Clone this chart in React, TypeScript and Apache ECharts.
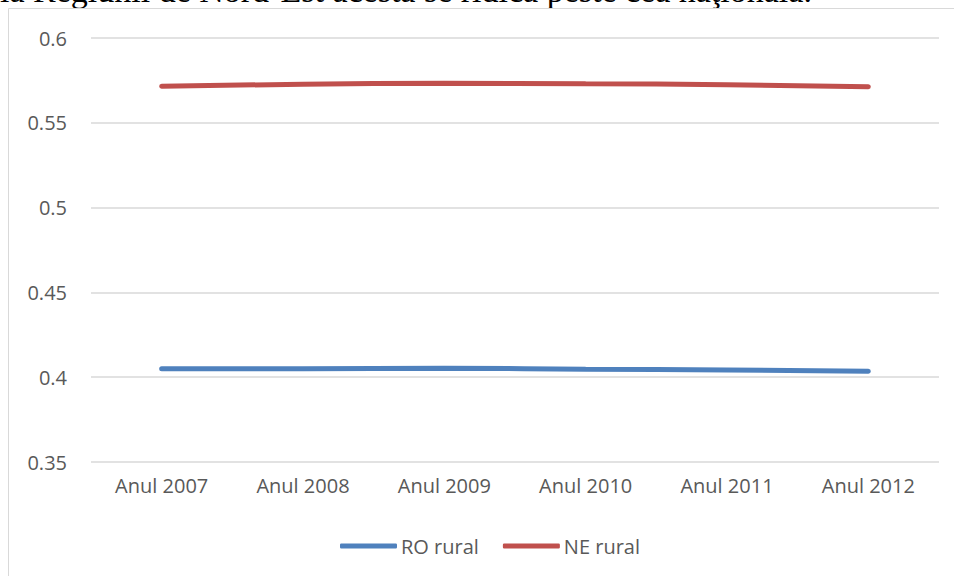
import React, { useEffect, useRef } from "react";
import * as echarts from "echarts";

const categories = ["Anul 2007", "Anul 2008", "Anul 2009", "Anul 2010", "Anul 2011", "Anul 2012"];
const roRural = [0.405, 0.405, 0.4053, 0.4047, 0.4043, 0.4035];
const neRural = [0.5715, 0.5728, 0.5733, 0.573, 0.5725, 0.5713];
const seriesNames = ["RO rural", "NE rural"];
const yTicks = { min: 0.35, max: 0.6, interval: 0.05 };
const headerText = "la Regiunii de Nord-Est acesta se ridică peste cea naţională.";

export default function App() {
  const ref = useRef<HTMLDivElement>(null);
  useEffect(() => {
    if (!ref.current) return;
    const chart = echarts.init(ref.current, undefined, { renderer: "svg" });
    const font = "'Open Sans', 'Liberation Sans', sans-serif";
    chart.setOption({
      animation: false,
      backgroundColor: "#ffffff",
      graphic: [
        {
          type: "text",
          x: 0,
          y: 7.5,
          style: {
            text: headerText,
            font: "34px 'Liberation Serif', 'Times New Roman', serif",
            fill: "#000000",
            verticalAlign: "bottom",
            align: "left",
          },
          silent: true,
        },
        {
          type: "rect",
          shape: { x: 8.5, y: 8.5, width: 1000, height: 1000 },
          style: { fill: "none", stroke: "#d9d9d9", lineWidth: 1 },
          silent: true,
        },
      ],
      grid: { left: 91, right: 15, top: 38, bottom: 114 },
      legend: {
        top: 536,
        left: 340,
        itemWidth: 57,
        itemHeight: 5,
        itemGap: 24,
        padding: 0,
        textStyle: { color: "#595959", fontSize: 20, fontFamily: font, padding: [0, 0, 0, -1] },
        data: seriesNames.map((n) => ({ name: n, icon: "roundRect" })),
      },
      xAxis: {
        type: "category",
        data: categories,
        boundaryGap: true,
        axisLine: { show: false },
        axisTick: { show: false },
        axisLabel: { color: "#595959", fontSize: 20, fontFamily: font, margin: 13 },
      },
      yAxis: {
        type: "value",
        min: yTicks.min,
        max: yTicks.max,
        interval: yTicks.interval,
        axisLine: { show: false },
        axisTick: { show: false },
        splitLine: { lineStyle: { color: "#d9d9d9", width: 1.5 } },
        axisLabel: {
          color: "#595959",
          fontSize: 20,
          fontFamily: font,
          margin: 24,
          formatter: (v: number) => String(parseFloat(v.toFixed(2))),
        },
      },
      series: [
        {
          name: seriesNames[0],
          type: "line",
          data: roRural,
          showSymbol: false,
          symbol: "none",
          smooth: true,
          lineStyle: { color: "#4F81BD", width: 5, cap: "round" },
          itemStyle: { color: "#4F81BD" },
        },
        {
          name: seriesNames[1],
          type: "line",
          data: neRural,
          showSymbol: false,
          symbol: "none",
          smooth: true,
          lineStyle: { color: "#C0504D", width: 5, cap: "round" },
          itemStyle: { color: "#C0504D" },
        },
      ],
    });
    return () => chart.dispose();
  }, []);
  return (
    <div
      ref={ref}
      style={{ position: "absolute", left: 0, top: 0, width: 954, height: 576 }}
    />
  );
}
